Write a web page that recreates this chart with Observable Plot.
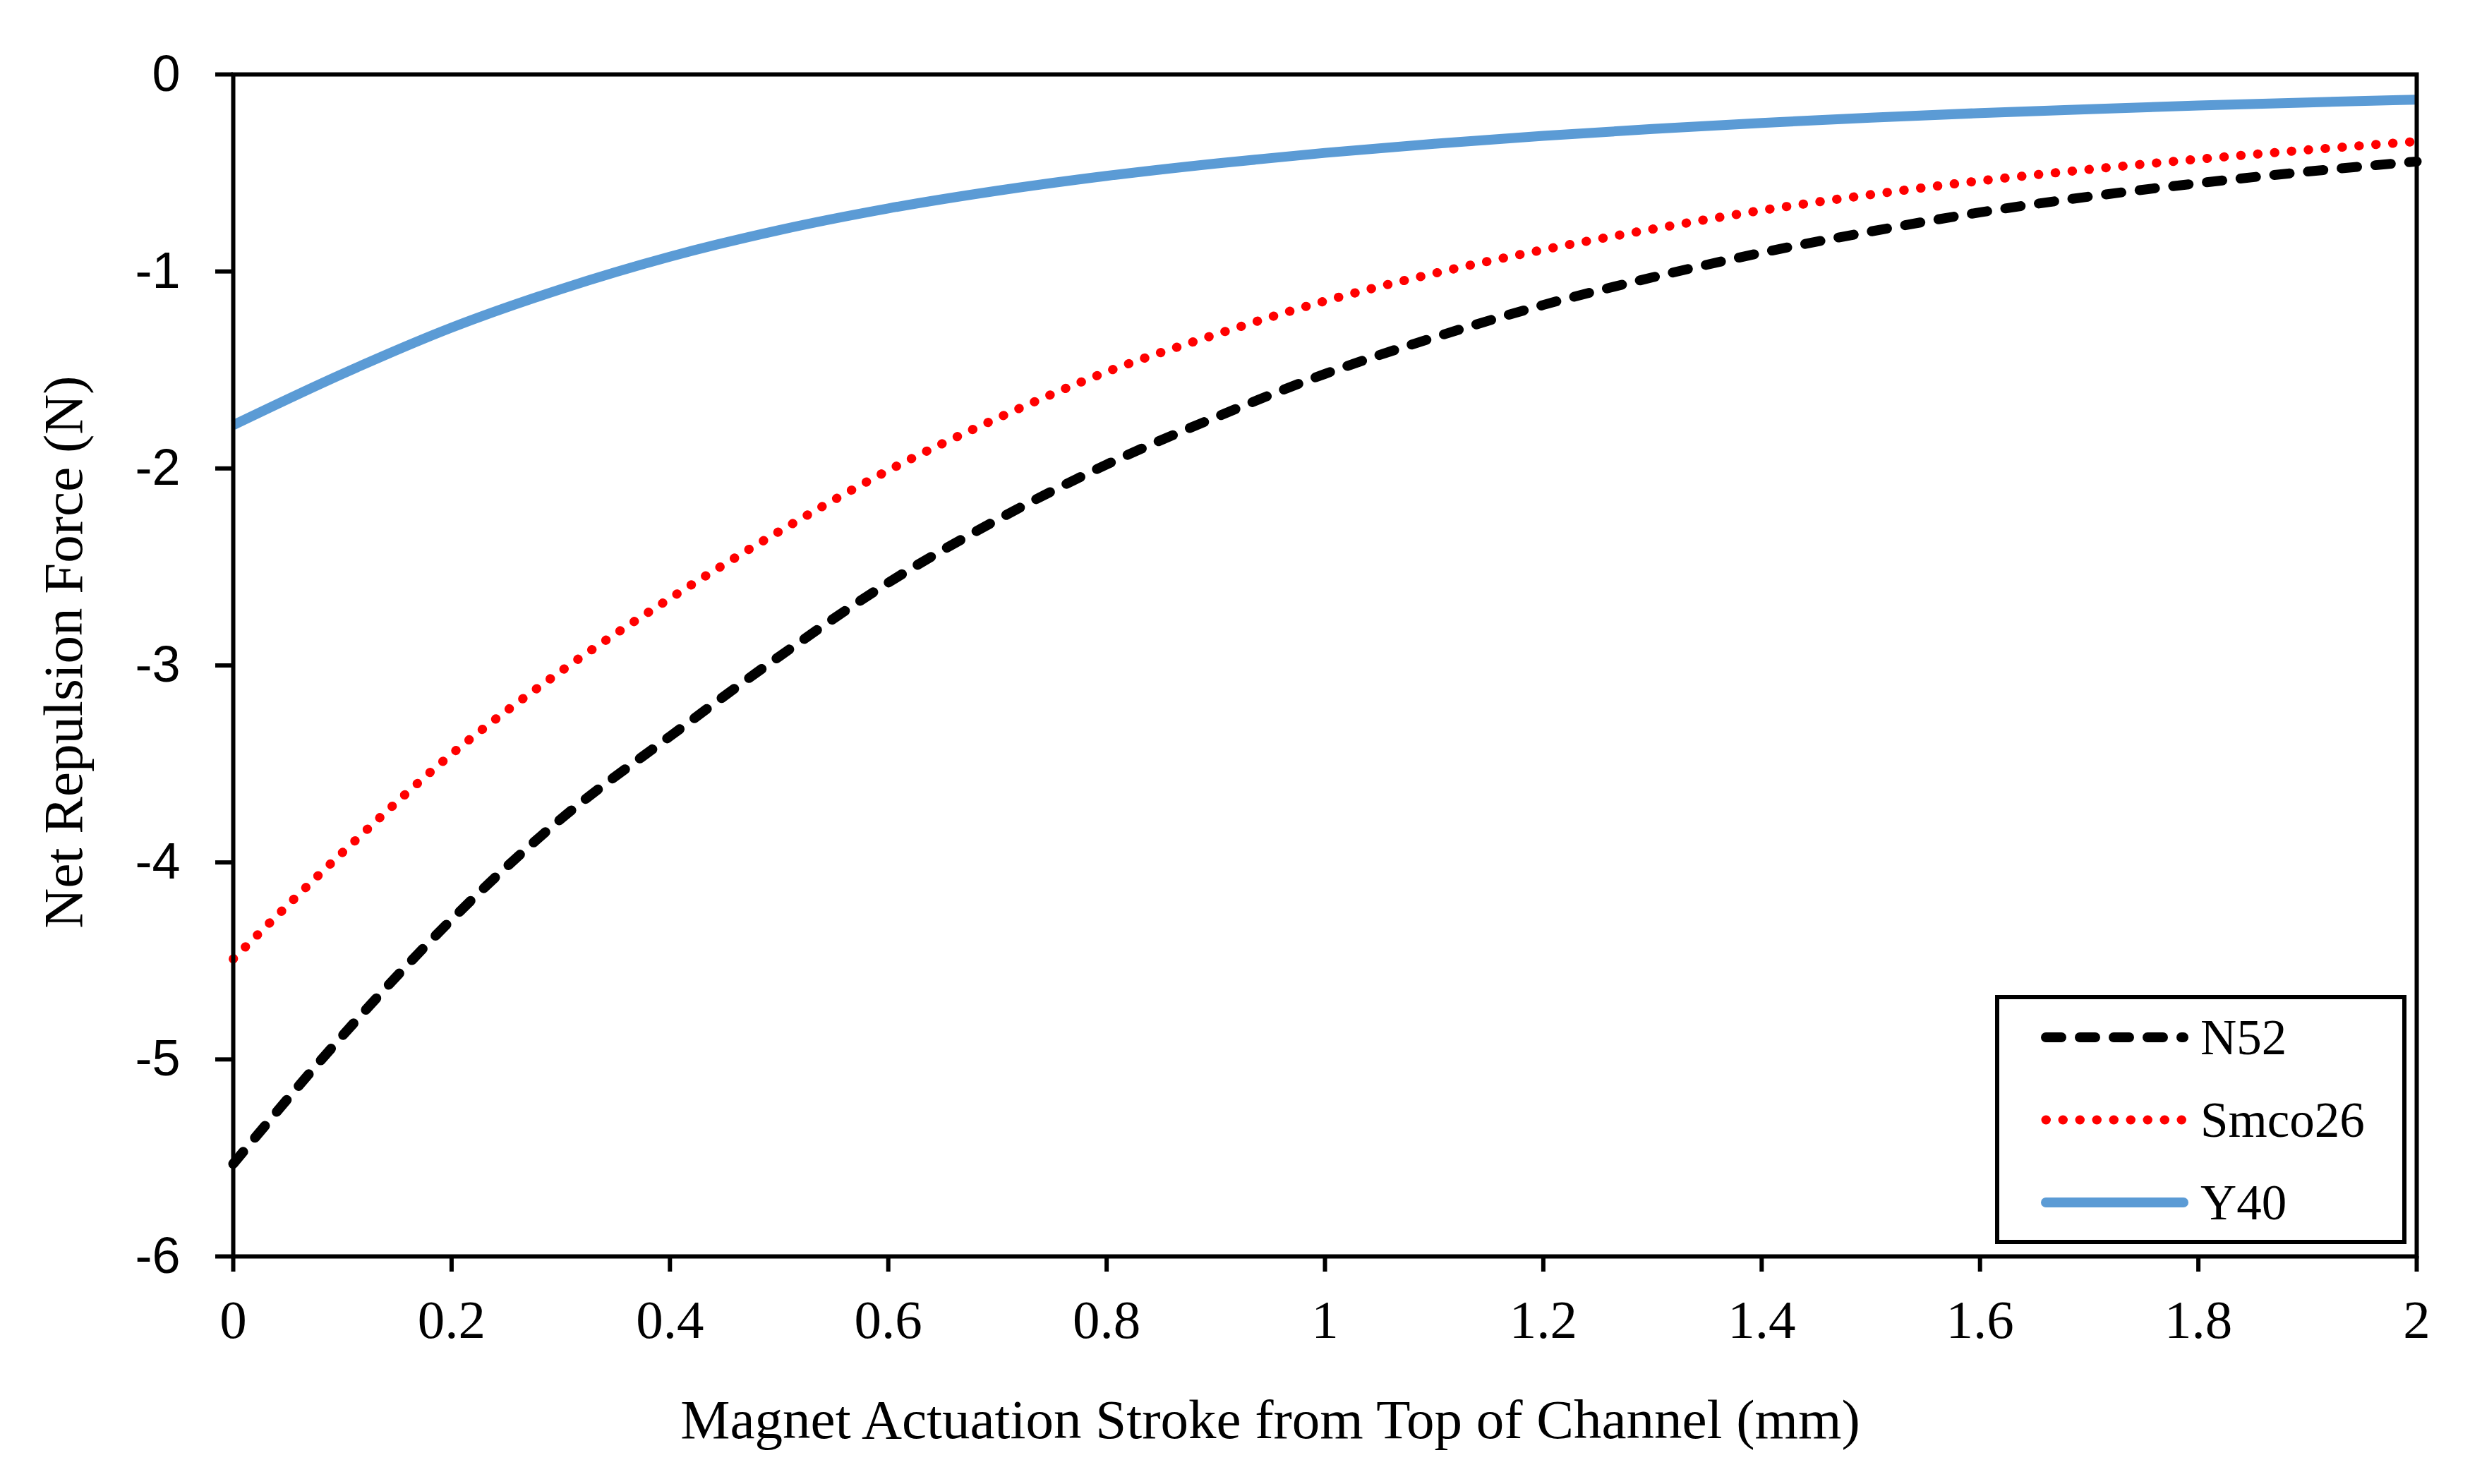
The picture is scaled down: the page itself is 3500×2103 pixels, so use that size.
<!DOCTYPE html>
<html>
<head>
<meta charset="utf-8">
<script src="https://cdn.jsdelivr.net/npm/d3@7"></script>
<script src="https://cdn.jsdelivr.net/npm/@observablehq/plot@0.6"></script>
<style>
  html, body { margin: 0; padding: 0; background: #fff; }
  #chart { position: relative; width: 3500px; height: 2103px; }
</style>
</head>
<body>
<div id="chart"></div>
<script>
// ---- data ----
const stroke = [0, 0.1, 0.2, 0.3, 0.4, 0.5, 0.6, 0.7, 0.8, 0.9, 1.0, 1.1, 1.2, 1.3, 1.4, 1.5, 1.6, 1.7, 1.8, 1.9, 2.0];
const n52    = [-5.53, -4.88, -4.29, -3.78, -3.36, -2.955, -2.58, -2.26, -1.98, -1.74, -1.52, -1.335, -1.17, -1.03, -0.905, -0.797, -0.70, -0.62, -0.552, -0.493, -0.442];
const smco26 = [-4.49, -3.95, -3.45, -3.03, -2.66, -2.32, -2.01, -1.745, -1.51, -1.32, -1.15, -1.01, -0.89, -0.785, -0.69, -0.61, -0.54, -0.482, -0.43, -0.383, -0.34];
const y40    = [-1.78, -1.52, -1.285, -1.09, -0.925, -0.79, -0.68, -0.59, -0.515, -0.452, -0.398, -0.352, -0.312, -0.277, -0.246, -0.219, -0.196, -0.176, -0.158, -0.142, -0.128];
const seriesNames = ["N52", "Smco26", "Y40"];
const xTicks = [0, 0.2, 0.4, 0.6, 0.8, 1, 1.2, 1.4, 1.6, 1.8, 2];
const yTicks = [0, -1, -2, -3, -4, -5, -6];
const xTitle = "Magnet Actuation Stroke from Top of Channel (mm)";
const yTitle = "Net Repulsion Force (N)";

// ---- styles ----
const styles = {
  N52:    { stroke: "#000000", strokeWidth: 14, strokeDasharray: "22,26", strokeLinecap: "round" },
  Smco26: { stroke: "#FF0000", strokeWidth: 13, strokeDasharray: "0.5,23.5", strokeLinecap: "round" },
  Y40:    { stroke: "#5B9BD5", strokeWidth: 14, strokeDasharray: null, strokeLinecap: "butt" }
};
const seriesValues = { N52: n52, Smco26: smco26, Y40: y40 };
const rows = (vals) => stroke.map((x, i) => ({ x, y: vals[i] }));

const W = 3500, H = 2103;
const mL = 330, mR = 76, mT = 105, mB = 323;
const serif = "'Liberation Serif', 'Times New Roman', serif";
const sans = "'Liberation Sans', Arial, sans-serif";

const chart = Plot.plot({
  width: W, height: H,
  marginLeft: mL, marginRight: mR, marginTop: mT, marginBottom: mB,
  style: { background: "white", overflow: "visible" },
  x: { domain: [0, 2] },
  y: { domain: [-6, 0] },
  marks: [
    ...seriesNames.map(name => Plot.line(rows(seriesValues[name]), {
      x: "x", y: "y",
      stroke: styles[name].stroke,
      strokeWidth: styles[name].strokeWidth,
      strokeDasharray: styles[name].strokeDasharray,
      strokeLinecap: styles[name].strokeLinecap,
      strokeLinejoin: "round",
      curve: "monotone-x"
    })),
    Plot.frame({ stroke: "#000", strokeWidth: 6 }),
    Plot.axisY({ ticks: yTicks, tickSize: 25, tickPadding: 50, tickFormat: d => String(d),
      fontSize: 72, fontFamily: sans, strokeWidth: 6, label: null }),
    Plot.axisX({ ticks: xTicks, tickSize: 22, tickPadding: 39, tickFormat: d => String(d),
      fontSize: 77, fontFamily: serif, strokeWidth: 6, label: null })
  ]
});

document.getElementById("chart").appendChild(chart);

// ---- axis titles & legend ----
const svg = d3.select(chart);
svg.append("text")
  .attr("x", 1800).attr("y", 2038)
  .attr("text-anchor", "middle")
  .attr("font-family", serif).attr("font-size", 79).attr("fill", "#000")
  .text(xTitle);
svg.append("text")
  .attr("transform", "translate(116,924) rotate(-90)")
  .attr("text-anchor", "middle")
  .attr("font-family", serif).attr("font-size", 79).attr("fill", "#000")
  .text(yTitle);

const lg = svg.append("g");
lg.append("rect")
  .attr("x", 2830).attr("y", 1413).attr("width", 577).attr("height", 347)
  .attr("fill", "white").attr("stroke", "#000").attr("stroke-width", 6);
const rowY = [1470, 1587, 1704];
seriesNames.forEach((name, i) => {
  const s = styles[name];
  lg.append("line")
    .attr("x1", 2899).attr("x2", 3094).attr("y1", rowY[i]).attr("y2", rowY[i])
    .attr("stroke", s.stroke).attr("stroke-width", s.strokeWidth)
    .attr("stroke-dasharray", s.strokeDasharray)
    .attr("stroke-linecap", name === "Y40" ? "round" : s.strokeLinecap);
  lg.append("text")
    .attr("x", 3118).attr("y", rowY[i] + 24)
    .attr("text-anchor", "start")
    .attr("font-family", serif).attr("font-size", 71).attr("fill", "#000")
    .text(name);
});
</script>
</body>
</html>
